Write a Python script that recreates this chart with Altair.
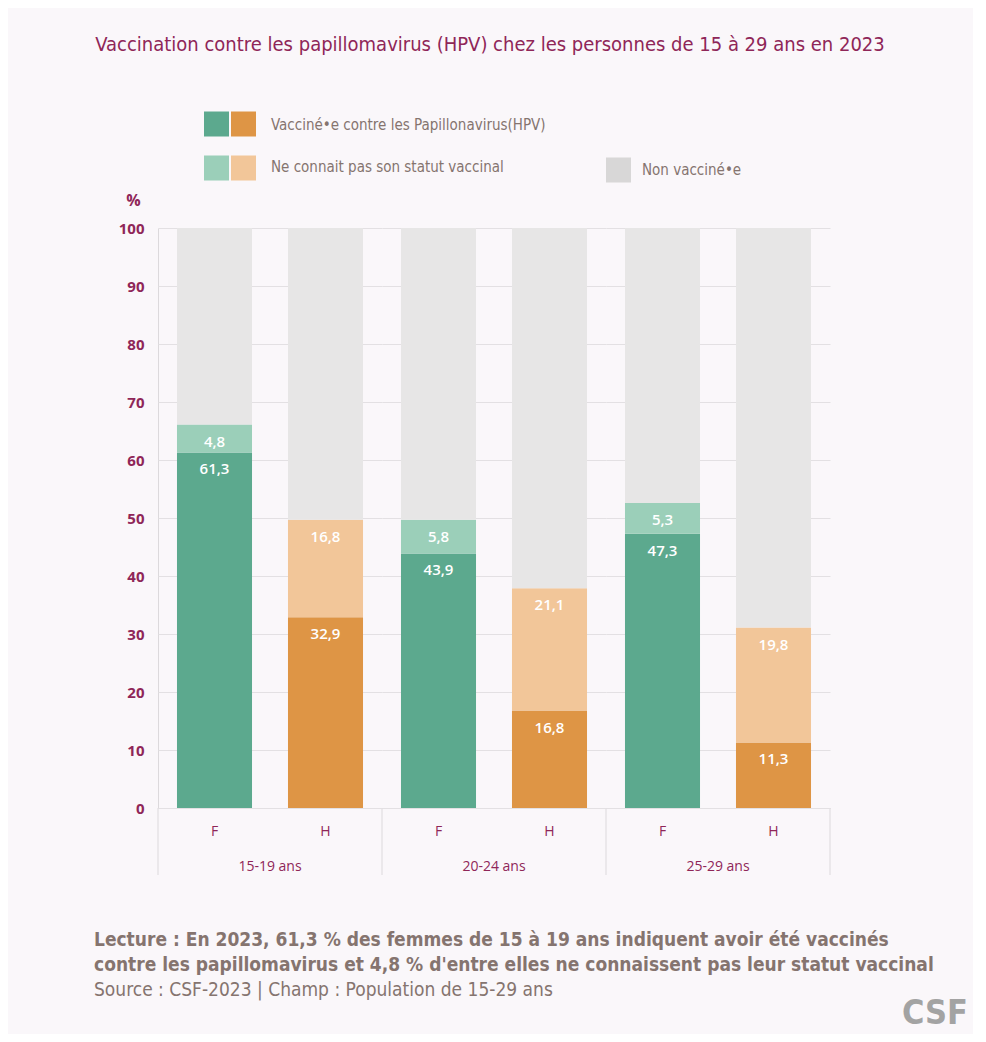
import altair as alt
import pandas as pd

# données
groupes = ["15-19 ans", "20-24 ans", "25-29 ans"]
sexes = ["F", "H"]
vaccine_f = [61.3, 43.9, 47.3]
vaccine_h = [32.9, 16.8, 11.3]
ne_sait_pas_f = [4.8, 5.8, 5.3]
ne_sait_pas_h = [16.8, 21.1, 19.8]

titre = "Vaccination contre les papillomavirus (HPV) chez les personnes de 15 à 29 ans en 2023"
legende = ["Vacciné•e contre les Papillonavirus(HPV)", "Ne connait pas son statut vaccinal", "Non vacciné•e"]
lecture = ["Lecture : En 2023, 61,3 % des femmes de 15 à 19 ans indiquent avoir été vaccinés",
           "contre les papillomavirus et 4,8 % d'entre elles ne connaissent pas leur statut vaccinal"]
source = "Source : CSF-2023 | Champ : Population de 15-29 ans"

cles = ["F_vacc", "H_vacc", "F_nsp", "H_nsp", "non"]
couleurs = ["#5ca98e", "#de9545", "#9bcfb9", "#f2c699", "#e7e6e6"]

BORDEAUX = "#8f2658"
GRIS_TXT = "#85746f"
LIGNE = "#dcd9dc"
FOND = "#faf7fa"
CONDENSE = "Liberation Sans Narrow, DejaVu Sans Condensed, Roboto"

rows = []
for i, g in enumerate(groupes):
    for s, vac, nsp in (("F", vaccine_f[i], ne_sait_pas_f[i]), ("H", vaccine_h[i], ne_sait_pas_h[i])):
        bas = 0
        for statut, v in (("vacc", vac), ("nsp", nsp), ("non", 100 - vac - nsp)):
            rows.append(dict(groupe=g, sexe=s, statut=statut,
                             cle="non" if statut == "non" else f"{s}_{statut}",
                             y0=bas, y1=bas + v,
                             label=f"{v:.1f}".replace(".", ",")))
            bas += v
df = pd.DataFrame(rows)

W, H = 224, 580

axe_y = alt.Axis(values=list(range(0, 101, 10)), gridColor="#e3e0e3", domainColor=LIGNE,
                 ticks=False, labelColor=BORDEAUX, labelFont="Open Sans", labelFontSize=15,
                 labelFontWeight="bold", labelPadding=14, title="%", titleAngle=0,
                 titleX=-25, titleY=-28, titleAlign="center", titleBaseline="middle",
                 titleColor=BORDEAUX, titleFont="Open Sans", titleFontSize=16,
                 titleFontWeight="bold")
echelle_y = alt.Scale(domain=[0, 100])

base = alt.Chart().encode(
    x=alt.X("sexe:N", sort=sexes, title=None,
            scale=alt.Scale(paddingInner=0.324, paddingOuter=0.171),
            axis=alt.Axis(labelAngle=0, ticks=False, domainColor=LIGNE, labelColor=BORDEAUX,
                          labelFont="Open Sans", labelFontSize=14, labelPadding=16))
)

bars = base.mark_bar().encode(
    y=alt.Y("y0:Q", scale=echelle_y, axis=axe_y),
    y2="y1:Q",
    color=alt.Color("cle:N", scale=alt.Scale(domain=cles, range=couleurs), legend=None),
)

labels = base.mark_text(color="white", font="Open Sans", fontSize=15, fontWeight=600, dy=17).encode(
    y=alt.Y("y1:Q", scale=echelle_y, axis=axe_y),
    text="label:N",
).transform_filter("datum.statut != 'non'")

panneau = alt.layer(bars, labels).properties(width=W, height=H).facet(
    data=df,
    column=alt.Column("groupe:N", sort=groupes, title=None,
                      header=alt.Header(labelOrient="bottom", labelColor=BORDEAUX, labelFont="Open Sans",
                                        labelFontSize=14, labelPadding=22)),
    spacing=0,
)

# en-tête et pied en pixels relatifs au coin du graphique
HL = 140
pastilles = pd.DataFrame({
    "px": [58.5, 85.5, 58.5, 85.5, 460.5],
    "py": [36, 36, 80, 80, 82],
    "c": [couleurs[0], couleurs[1], couleurs[2], couleurs[3], "#d8d7d7"],
})
textes_leg = pd.DataFrame({"px": [113, 113, 484], "py": [37, 79, 82], "t": legende})
separateurs = pd.DataFrame({"px": [i * W for i in range(len(groupes) + 1)]})

haut = alt.layer(
    alt.Chart(pd.DataFrame({"t": [titre]})).mark_text(
        font=CONDENSE, fontSize=20, color=BORDEAUX, align="center", baseline="middle"
    ).encode(x=alt.value(332), y=alt.value(-43), text="t:N"),
    alt.Chart(pastilles).mark_square(size=625, opacity=1).encode(
        x=alt.X("px:Q", scale=None), y=alt.Y("py:Q", scale=None), color=alt.Color("c:N", scale=None)),
    alt.Chart(textes_leg).mark_text(
        font=CONDENSE, fontSize=15, color=GRIS_TXT, align="left", baseline="middle"
    ).encode(x=alt.X("px:Q", scale=None), y=alt.Y("py:Q", scale=None), text="t:N"),
    alt.Chart(separateurs).mark_rule(color=LIGNE).encode(
        x=alt.X("px:Q", scale=None), y=alt.value(HL + H), y2=alt.value(HL + H + 67)),
    alt.Chart(pd.DataFrame({"t": lecture, "py": [852, 877]})).mark_text(
        font=CONDENSE, fontSize=19, fontWeight="bold", color=GRIS_TXT, align="left", baseline="middle"
    ).encode(x=alt.value(-64), y=alt.Y("py:Q", scale=None), text="t:N"),
    alt.Chart(pd.DataFrame({"t": [source]})).mark_text(
        font=CONDENSE, fontSize=19, color=GRIS_TXT, align="left", baseline="middle"
    ).encode(x=alt.value(-64), y=alt.value(902), text="t:N"),
    alt.Chart(pd.DataFrame({"t": ["CSF"]})).mark_text(
        font=CONDENSE, fontSize=34, fontWeight="bold", color="#a3a3a3", align="right", baseline="middle"
    ).encode(x=alt.value(810), y=alt.value(926), text="t:N"),
).properties(width=3 * W, height=HL)

chart = alt.vconcat(haut, panneau, spacing=0, bounds="flush").properties(
    background=FOND,
    padding={"left": 86, "top": 27, "right": 5, "bottom": 3},
).configure_view(stroke=None)

chart.save("out.html", embed_options={"renderer": "svg", "actions": False})
